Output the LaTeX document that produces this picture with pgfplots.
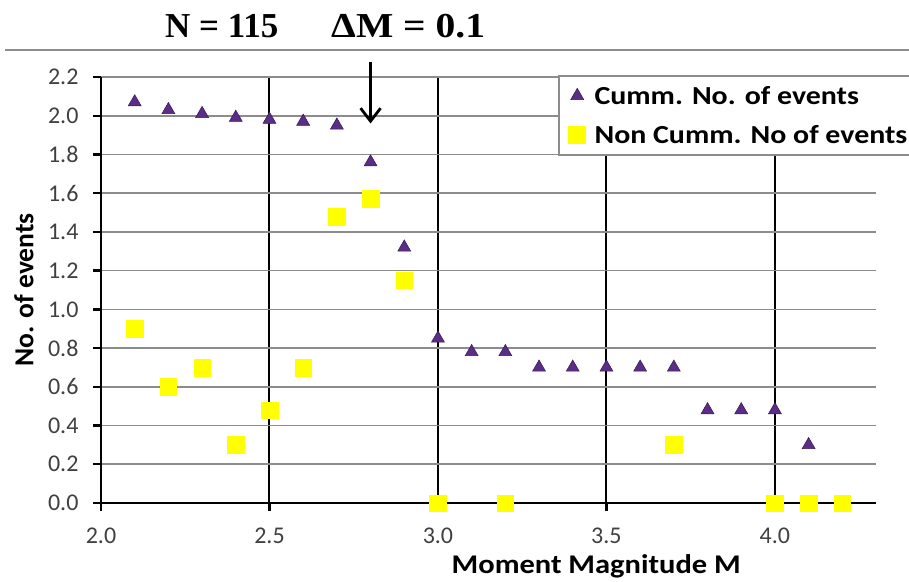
\documentclass[border=0pt]{standalone}
\usepackage{pgfplots}
\pgfplotsset{compat=1.18}
\usetikzlibrary{arrows.meta}
\usepackage{fontspec}
\setmainfont{Carlito}
\newfontfamily\titlefont{Liberation Serif}
\definecolor{tri}{HTML}{5B2D86}
\definecolor{sq}{HTML}{FFFF00}
\definecolor{gridgray}{HTML}{8C8C8C}
\definecolor{ticktext}{HTML}{404040}
\pgfplotstableread{
x y
2.1 2.07
2.2 2.03
2.3 2.01
2.4 1.99
2.5 1.98
2.6 1.97
2.7 1.95
2.8 1.76
2.9 1.32
3.0 0.85
3.1 0.78
3.2 0.78
3.3 0.70
3.4 0.70
3.5 0.70
3.6 0.70
3.7 0.70
3.8 0.48
3.9 0.48
4.0 0.48
4.1 0.30
}\cumm
\pgfplotstableread{
x y
2.1 0.90
2.2 0.60
2.3 0.70
2.4 0.30
2.5 0.48
2.6 0.70
2.7 1.48
2.8 1.57
2.9 1.15
3.0 0.00
3.2 0.00
3.7 0.30
4.0 0.00
4.1 0.00
4.2 0.00
}\noncumm
\begin{document}
\begin{tikzpicture}[x=1pt,y=1pt]
\begin{axis}[
  at={(101pt,-503pt)}, anchor=origin,
  scale only axis, width=775pt, height=426pt,
  xmin=2.0, xmax=4.3, ymin=0, ymax=2.2,
  xtick={2.0,2.5,...,4.0}, ytick={0,0.2,...,2.2},
  axis x line=bottom, axis y line=left,
  axis line style={-, line width=2.8pt, black},
  tick align=outside, major tick length=8pt,
  every tick/.style={black, line width=2.4pt},
  xtick pos=bottom, ytick pos=left,
  xmajorgrids, ymajorgrids,
  x grid style={black, line width=2pt},
  y grid style={gridgray, line width=1.7pt},
  /pgf/number format/assume math mode=true,
  /pgf/number format/fixed,
  /pgf/number format/fixed zerofill,
  /pgf/number format/precision=1,
  ticklabel style={font=\fontsize{24}{26}\selectfont, text=ticktext},
  xticklabel style={yshift=-13pt},
  yticklabel style={xshift=-11pt},
  ylabel={\textbf{No. of events}},
  ylabel style={font=\fontsize{27.5}{30}\selectfont, at={(axis description cs:-0.0994,0.5)}, anchor=center},
  xlabel={\scalebox{1.13}[1]{\textbf{Moment Magnitude M}}},
  xlabel style={font=\fontsize{27}{30}\selectfont, at={(axis description cs:0.639,0)}, anchor=base, yshift=-70pt},
  legend style={at={(axis description cs:0.59,1.004)}, anchor=north west,
    draw=gridgray, line width=1.4pt, fill=white,
    font=\bfseries\fontsize{26}{28}\selectfont,
    row sep=16pt, inner xsep=10pt, inner ysep=8pt},
  legend cell align=left,
  clip=false,
]
\addplot[only marks, mark=triangle*, mark size=7.5pt, mark options={fill=tri, draw=tri!60!black, line width=0.5pt}] table {\cumm};
\addlegendentry{\hspace{7pt}\scalebox{1.15}[1]{Cumm. No. of events}}
\addplot[only marks, mark=square*, mark size=8.3pt, mark options={fill=sq, draw=sq}] table {\noncumm};
\addlegendentry{\hspace{7pt}\scalebox{1.15}[1]{Non Cumm. No of events}}
\draw[line width=2.8pt, black, -{Straight Barb[length=13pt, width=20pt, line width=2.8pt]}] (axis cs:2.8,2.28) -- (axis cs:2.8,1.96);
\end{axis}
\draw[gridgray, line width=2.5pt] (5pt,-50pt) -- (909pt,-50pt);
\node[anchor=base west, inner sep=0pt, font=\titlefont\bfseries\fontsize{35}{38}\selectfont] at (165pt,-37pt) {N = 115};
\node[anchor=base west, inner sep=0pt, font=\titlefont\bfseries\fontsize{35}{38}\selectfont] at (331pt,-37pt) {\scalebox{1.13}[1]{ΔM = 0.1}};
\pgfresetboundingbox
\path (0pt,0pt) rectangle (909pt,-581pt);
\end{tikzpicture}
\end{document}
